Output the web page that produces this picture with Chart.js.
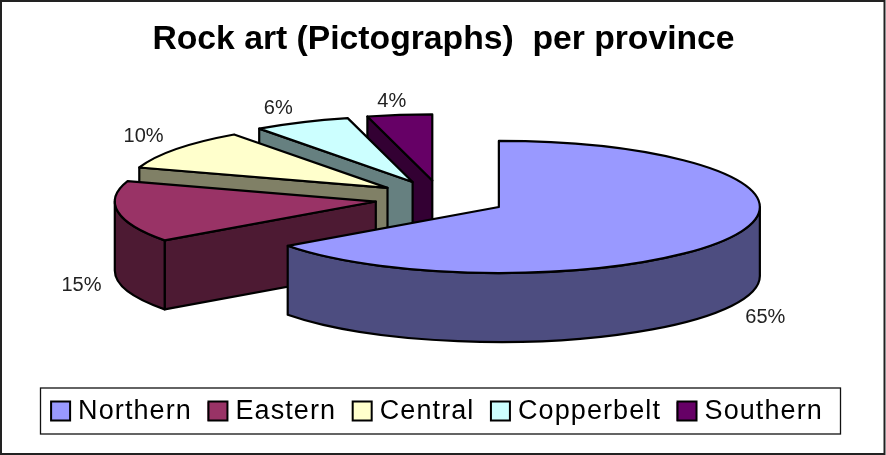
<!DOCTYPE html>
<html>
<head>
<meta charset="utf-8">
<style>html,body{margin:0;padding:0;background:#fff}#wrap{width:886px;height:455px}</style>
<script src="https://cdn.jsdelivr.net/npm/chart.js@4"></script>
</head>
<body>
<div id="wrap"><canvas id="c" width="886" height="455"></canvas></div>
<script>
const categories = ['Northern', 'Eastern', 'Central', 'Copperbelt', 'Southern'];
const shares = [65, 15, 10, 6, 4];
const topColors = ['#9999FF', '#993366', '#FFFFCC', '#CCFFFF', '#660066'];
const sideColors = ['#4D4D80', '#4D1A33', '#808066', '#668080', '#330033'];
const titleText = 'Rock art (Pictographs)  per province';

const TILT = 0.253, DEPTH = 69, EXPLODE = 65.5, EXPLODE_Y = 0.28;
const LEGEND_SPACING = '1.1px', LEGEND_DX = -4, LEGEND_DY = 43.6, TITLE_DX = 3, TITLE_DY = 1;
const LABEL_NUDGE = [[0, 2], [1, 1], [-2, -1], [-7, 4], [-3, 6]];

const pie3d = {
  id: 'pie3d',
  beforeLayout(chart) { chart.ctx.letterSpacing = LEGEND_SPACING; },
  afterLayout(chart) {
    const c = chart.ctx;
    c.letterSpacing = '0px';
    if (!chart.legend._wrapped) {
      const orig = chart.legend.draw;
      chart.legend.draw = function () {
        c.save();
        c.translate(LEGEND_DX, LEGEND_DY);
        c.letterSpacing = LEGEND_SPACING;
        orig.call(this);
        c.restore();
      };
      chart.legend._wrapped = true;
      const origT = chart.titleBlock.draw;
      chart.titleBlock.draw = function () {
        c.save();
        c.translate(TITLE_DX, TITLE_DY);
        origT.call(this);
        c.restore();
      };
    }
  },
  beforeDraw(chart) {
    const c = chart.ctx;
    c.save();
    c.fillStyle = '#fff';
    c.fillRect(0, 0, chart.width, chart.height);
    c.strokeStyle = '#222';
    c.lineWidth = 2;
    c.strokeRect(1, 1, 883.5, 453);
    c.lineWidth = 1.3;
    c.strokeStyle = '#111';
    c.strokeRect(40.5, 388, 800, 46);
    c.restore();
  },
  beforeDatasetDraw(chart, args) {
    const c = chart.ctx;
    const arcs = args.meta.data;
    c.save();
    c.lineWidth = 2.2;
    c.lineJoin = 'round';
    c.strokeStyle = '#000';
    for (let i = arcs.length - 1; i >= 0; i--) {
      const el = arcs[i];
      const a1 = el.startAngle, a2 = el.endAngle, rx = el.outerRadius, ry = rx * TILT;
      const mid = (a1 + a2) / 2;
      const cx = el.x + Math.cos(mid) * EXPLODE;
      const cy = el.y + Math.sin(mid) * EXPLODE * EXPLODE_Y;
      c.fillStyle = sideColors[i];
      const face = a => {
        const px = cx + Math.cos(a) * rx, py = cy + Math.sin(a) * ry;
        c.beginPath();
        c.moveTo(cx, cy); c.lineTo(px, py); c.lineTo(px, py + DEPTH); c.lineTo(cx, cy + DEPTH);
        c.closePath(); c.fill(); c.stroke();
      };
      if (Math.cos(a1) < -1e-6) face(a1);
      if (Math.cos(a2) > 1e-6) face(a2);
      const lo = Math.max(a1, 0), hi = Math.min(a2, Math.PI);
      if (hi > lo) {
        c.beginPath();
        c.ellipse(cx, cy, rx, ry, 0, lo, hi);
        c.ellipse(cx, cy + DEPTH, rx, ry, 0, hi, lo, true);
        c.closePath(); c.fill(); c.stroke();
      }
      c.save();
      c.translate(cx, cy);
      c.scale(1, TILT);
      c.translate(-el.x, -el.y);
      el.draw(c);
      c.restore();
      c.beginPath();
      c.moveTo(cx, cy);
      c.ellipse(cx, cy, rx, ry, 0, a1, a2);
      c.closePath(); c.stroke();
    }
    c.font = '20px "Liberation Sans"';
    c.fillStyle = '#222';
    c.textAlign = 'center';
    c.textBaseline = 'middle';
    arcs.forEach((el, i) => {
      const mid = (el.startAngle + el.endAngle) / 2, rx = el.outerRadius, ry = rx * TILT;
      const cx = el.x + Math.cos(mid) * EXPLODE, cy = el.y + Math.sin(mid) * EXPLODE * EXPLODE_Y;
      const lower = Math.sin(mid) > 0 ? DEPTH : 0;
      const lx = cx + Math.cos(mid) * (rx + 38) + LABEL_NUDGE[i][0];
      const ly = cy + Math.sin(mid) * (ry + 20) + lower + LABEL_NUDGE[i][1];
      c.fillText(shares[i] + '%', lx, ly);
    });
    c.restore();
    return false;
  },
  afterDraw(chart) {
    const c = chart.ctx, boxes = chart.legend.legendHitBoxes;
    c.save();
    c.lineWidth = 2;
    c.strokeStyle = '#000';
    boxes.forEach((b, i) => {
      c.fillStyle = topColors[i];
      c.beginPath();
      c.rect(b.left + LEGEND_DX + 1, 401.5, 19, 19);
      c.fill(); c.stroke();
    });
    c.restore();
  }
};

new Chart(document.getElementById('c'), {
  type: 'pie',
  data: {
    labels: categories,
    datasets: [{ data: shares, backgroundColor: topColors, borderWidth: 0 }]
  },
  options: {
    responsive: false,
    animation: false,
    radius: 261,
    rotation: 0,
    layout: { padding: { left: 0, right: 5, top: 0, bottom: 63.6 } },
    plugins: {
      tooltip: { enabled: false },
      title: {
        display: true,
        text: titleText,
        color: '#000',
        font: { family: '"Liberation Sans"', size: 33.7, weight: 'bold', lineHeight: 1.2 },
        padding: { top: 18, bottom: 0 }
      },
      legend: {
        position: 'bottom',
        labels: {
          color: '#000',
          font: { family: '"Liberation Sans"', size: 27 },
          boxWidth: 14.5,
          boxHeight: 19,
          padding: 15.5
        }
      }
    }
  },
  plugins: [pie3d]
});
</script>
</body>
</html>
